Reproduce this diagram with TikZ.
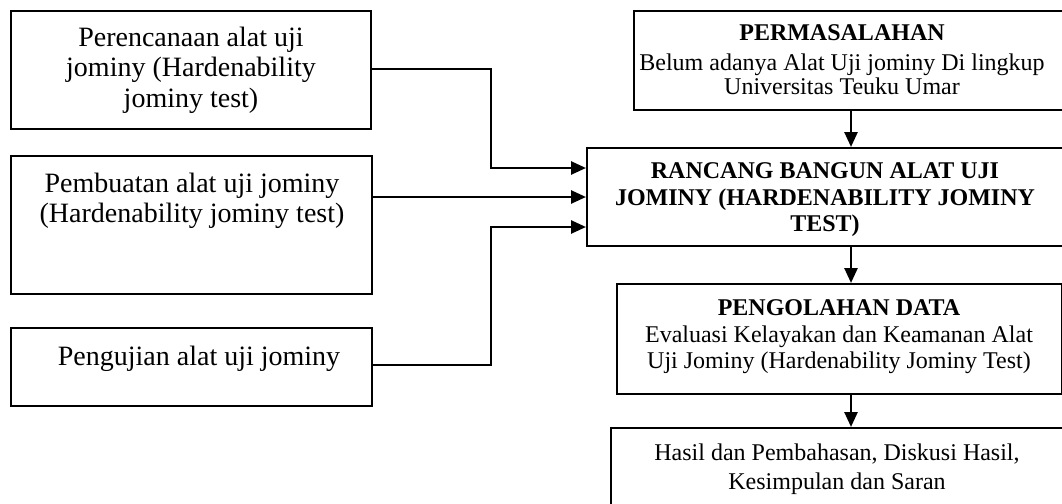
\documentclass[tikz,border=0pt]{standalone}
\usepackage{fontspec}
\setmainfont{Liberation Serif}
\usetikzlibrary{arrows.meta}
\usetikzlibrary{positioning}

\tikzset{
  box/.style={draw, line width=2pt, inner sep=0pt, anchor=north west},
  lefttext/.style={align=center, font=\fontsize{28}{30.5}\selectfont},
  righttext/.style={align=center, font=\fontsize{24}{26.5}\selectfont},
  arr/.style={line width=2.6pt, -{Triangle[length=15pt,width=13pt]}}
}
\newcommand{\headfont}{\fontsize{24}{26.5}\selectfont\bfseries}

\begin{document}
\begin{tikzpicture}[x=1pt,y=1pt]
\path[use as bounding box, clip] (0,0) rectangle (1062,-503);
%%%% left boxes
\node[box, minimum width=360pt, minimum height=118pt] (plan) at (10,-10) {};
\node[lefttext] (plantext) at (191,-70) {Perencanaan alat uji\\jominy (Hardenability\\jominy test)};
\node[box, minimum width=361pt, minimum height=138pt] (make) at (10,-155) {};
\node[lefttext] (maketext) at (192,-201) {Pembuatan alat uji jominy\\(Hardenability jominy test)};
\node[box, minimum width=361pt, minimum height=78pt] (test) at (10,-327) {};
\node[lefttext] (testtext) at (199,-359) {Pengujian alat uji jominy};
%%%% right boxes
\node[box, minimum width=450pt, minimum height=99pt] (masalah) at (633,-10) {};
\node[righttext] (masalahtext) at (842,-60) {{\headfont PERMASALAHAN}\\[3pt]Belum adanya Alat Uji jominy Di lingkup\\[-2pt]Universitas Teuku Umar};
\node[box, minimum width=500pt, minimum height=98pt] (rancang) at (586,-147) {};
\node[righttext] (rancangtext) at (825,-200) {\headfont RANCANG BANGUN ALAT UJI\\\headfont JOMINY (HARDENABILITY JOMINY\\\headfont TEST)};
\node[box, minimum width=445pt, minimum height=110pt] (olah) at (616,-283) {};
\node[righttext] (olahtext) at (839,-337) {{\headfont PENGOLAHAN DATA}\\Evaluasi Kelayakan dan Keamanan Alat\\Uji Jominy (Hardenability Jominy Test)};
\node[box, minimum width=480pt, minimum height=100pt] (hasil) at (610,-427) {};
\node[righttext] (hasiltext) at (837,-469) {Hasil dan Pembahasan, Diskusi Hasil,\\[3pt]Kesimpulan dan Saran};
%%%% arrows left -> rancang
\coordinate (bend) at (491,0);
\coordinate (down) at (851,0);
\draw[arr] (plan.east |- 0,-69) -| (bend |- 0,-168) -- (rancang.west |- 0,-168);
\draw[arr] (make.east |- 0,-197) -- (rancang.west |- 0,-197);
\draw[arr] (test.east |- 0,-365) -| (bend |- 0,-227) -- (rancang.west |- 0,-227);
%%%% arrows down
\draw[arr] (masalah.south -| down) -- (rancang.north -| down);
\draw[arr] (rancang.south -| down) -- (olah.north -| down);
\draw[arr] (olah.south -| down) -- (hasil.north -| down);
\end{tikzpicture}
\end{document}
